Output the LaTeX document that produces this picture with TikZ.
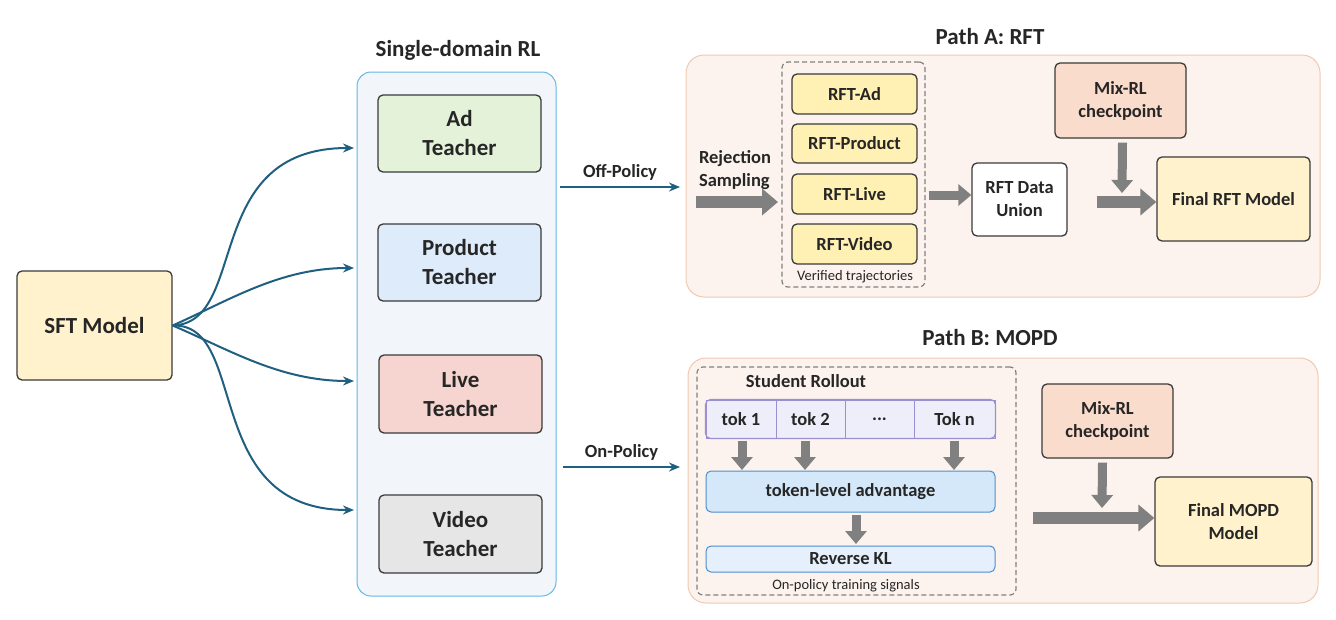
\documentclass[tikz,border=0pt]{standalone}
\usepackage{fontspec}
\setmainfont{Carlito}
\usetikzlibrary{arrows.meta}
\definecolor{cur}{HTML}{1F5F80}
\definecolor{gar}{HTML}{808080}
\definecolor{edge}{HTML}{3A3A3A}
\tikzset{
 box/.style={draw=edge, line width=1.3pt, rounded corners=5pt, align=center, font=\bfseries\fontsize{23}{29}\selectfont, text=black!85},
 sbox/.style={box, font=\bfseries\fontsize{18.5}{23}\selectfont},
 cv/.style={draw=cur, line width=2pt, -{Stealth[length=11pt,width=9pt]}},
 ga/.style={draw=gar, line width=12pt, -{Triangle[length=16pt,width=26pt]}},
 gd/.style={draw=gar, line width=9pt, -{Triangle[length=13pt,width=21pt]}},
 ttl/.style={font=\bfseries\fontsize{23}{27}\selectfont, text=black!85},
 lbl/.style={font=\bfseries\fontsize{18.5}{23}\selectfont, text=black!85},
 sm/.style={font=\fontsize{14.5}{17}\selectfont, text=black!85},
 dbox/.style={draw=gray, line width=1.2pt, rounded corners=6pt, dash pattern=on 5pt off 3pt},
}
\begin{document}
\begin{tikzpicture}[x=1pt,y=-1pt]
\useasboundingbox (0,0) rectangle (1336,619);
% SFT
\node[box, fill={rgb,255:red,255;green,242;blue,204}, minimum width=155pt, minimum height=109pt] (sft) at (94.5,325.5) {SFT Model};
% single domain panel
\node[draw={rgb,255:red,100;green,185;blue,225}, line width=1pt, fill={rgb,255:red,242;green,245;blue,250}, rounded corners=14pt, minimum width=199pt, minimum height=524pt] (sd) at (456.5,334) {};
\node[ttl] (sdt) at (458,50) {Single-domain RL};
\node[box, fill={rgb,255:red,227;green,242;blue,217}, minimum width=163pt, minimum height=77pt] (ad) at (459.5,133.5) {Ad\\Teacher};
\node[box, fill={rgb,255:red,221;green,235;blue,251}, minimum width=163pt, minimum height=77pt] (pr) at (459.5,262.5) {Product\\Teacher};
\node[box, fill={rgb,255:red,246;green,213;blue,208}, minimum width=163pt, minimum height=78pt] (lv) at (460.5,394) {Live\\Teacher};
\node[box, fill={rgb,255:red,230;green,230;blue,230}, minimum width=163pt, minimum height=78pt] (vd) at (460.5,534) {Video\\Teacher};
\coordinate (a1) at (354,148); \coordinate (a2) at (354,268);
\coordinate (a3) at (354,381); \coordinate (a4) at (354,510);
\draw[cv] (sft.east) .. controls (250,323) and (200,148) .. (a1);
\draw[cv] (sft.east) .. controls (230,300) and (280,268) .. (a2);
\draw[cv] (sft.east) .. controls (230,350) and (280,381) .. (a3);
\draw[cv] (sft.east) .. controls (250,323) and (200,510) .. (a4);
% off/on policy
\coordinate (o1) at (560,187); \coordinate (o2) at (680,187);
\draw[cv] (o1) -- node[lbl, above=2pt] (offl) {Off-Policy} (o2);
\coordinate (n1) at (563,467); \coordinate (n2) at (680,467);
\draw[cv] (n1) -- node[lbl, above=2pt] (onl) {On-Policy} (n2);
% Path A
\node[draw={rgb,255:red,242;green,200;blue,176}, line width=1pt, fill={rgb,255:red,252;green,243;blue,238}, rounded corners=18pt, minimum width=634pt, minimum height=242pt] (pa) at (1003,176) {};
\node[ttl] (pat) at (990,37) {Path A: RFT};
\node[dbox, minimum width=143pt, minimum height=225pt] (dA) at (853.5,174.5) {};
\node[sbox, fill={rgb,255:red,255;green,240;blue,179}, minimum width=125pt, minimum height=40pt] (r1) at (854.5,94) {RFT-Ad};
\node[sbox, fill={rgb,255:red,255;green,240;blue,179}, minimum width=125pt, minimum height=39pt] (r2) at (854.5,143.5) {RFT-Product};
\node[sbox, fill={rgb,255:red,255;green,240;blue,179}, minimum width=125pt, minimum height=40pt] (r3) at (854.5,194) {RFT-Live};
\node[sbox, fill={rgb,255:red,255;green,240;blue,179}, minimum width=125pt, minimum height=40pt] (r4) at (854.5,244) {RFT-Video};
\node[sm] (vt) at (855,277) {Verified trajectories};
\node[lbl, align=left] (rs) at (735,170) {Rejection\\Sampling};
\coordinate (g1) at (696,202); \coordinate (g2) at (778,202);
\draw[ga] (g1) -- (g2);
\node[sbox, fill=white, minimum width=95pt, minimum height=73pt] (un) at (1019.5,199.5) {RFT Data\\Union};
\draw[gd] (dA.east |- 0,195) ++(3,0) -- (un.west |- 0,195);
\node[sbox, fill={rgb,255:red,250;green,220;blue,204}, minimum width=131pt, minimum height=75pt] (mA) at (1120.5,100.5) {Mix-RL\\checkpoint};
\node[sbox, fill={rgb,255:red,255;green,242;blue,204}, minimum width=153pt, minimum height=84pt] (fA) at (1233.5,199) {Final RFT Model};
\draw[gd] (mA.south) ++(2,4) -- (1122,193);
\draw[ga] (un.east |- 0,202) ++(29,0) coordinate (u2) -- (fA.west |- 0,202);
% Path B
\node[draw={rgb,255:red,242;green,200;blue,176}, line width=1pt, fill={rgb,255:red,252;green,243;blue,238}, rounded corners=18pt, minimum width=630pt, minimum height=245pt] (pb) at (1003,480.5) {};
\node[ttl] (pbt) at (990,338) {Path B: MOPD};
\node[dbox, minimum width=319pt, minimum height=228pt] (dB) at (856.5,481) {};
\node[lbl] (sr) at (806,381) {Student Rollout};
\begin{scope}[every node/.style={sbox, draw={rgb,255:red,156;green,143;blue,208}, line width=1pt, rounded corners=0pt, fill={rgb,255:red,238;green,238;blue,251}, minimum height=38pt}]
\node[minimum width=70pt] (t1) at (741,419) {tok 1};
\node[minimum width=69pt] (t2) at (810.5,419) {tok 2};
\node[minimum width=69pt] (t3) at (879.5,419) {...};
\node[minimum width=81pt] (t4) at (954.5,419) {Tok n};
\end{scope}
\draw[draw={rgb,255:red,156;green,143;blue,208}, line width=1.2pt, rounded corners=5pt] (t1.north west) rectangle (t4.south east);
\node[sbox, draw={rgb,255:red,74;green,143;blue,208}, line width=1pt, fill={rgb,255:red,213;green,232;blue,250}, minimum width=289pt, minimum height=41pt] (adv) at (850.5,491.5) {token-level advantage};
\node[sbox, draw={rgb,255:red,74;green,143;blue,208}, line width=1pt, fill={rgb,255:red,230;green,240;blue,252}, minimum width=289pt, minimum height=26pt, inner sep=1pt] (kl) at (850.5,559) {Reverse KL};
\node[sm] (ots) at (846,586) {On-policy training signals};
\draw[gd] (t1.south -| 742,0) ++(0,2) -- (742,470);
\draw[gd] (t2.south -| 805,0) ++(0,2) -- (805,470);
\draw[gd] (t4.south -| 954,0) ++(0,2) -- (954,470);
\draw[gd] (adv.south -| 856,0) ++(0,2) -- (856,544);
\node[sbox, fill={rgb,255:red,250;green,220;blue,204}, minimum width=131pt, minimum height=74pt] (mB) at (1107.5,421) {Mix-RL\\checkpoint};
\node[sbox, fill={rgb,255:red,255;green,242;blue,204}, minimum width=157pt, minimum height=89pt] (fB) at (1233.5,521.5) {Final MOPD\\Model};
\draw[gd] (mB.south) ++(-5,4) -- (1102,508);
\coordinate (h1) at (1033,518);
\draw[ga] (h1) -- (fB.west |- 0,518);
\end{tikzpicture}
\end{document}
